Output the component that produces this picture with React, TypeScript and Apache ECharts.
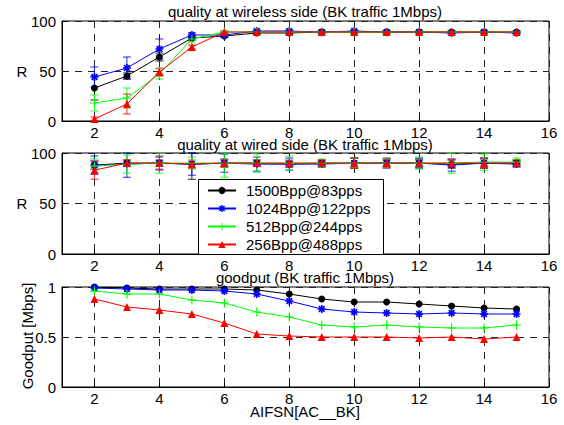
import React, { useEffect, useRef } from "react";
import * as echarts from "echarts";

const xs = [2, 3, 4, 5, 6, 7, 8, 9, 10, 11, 12, 13, 14, 15];
const xTickValues = [2, 4, 6, 8, 10, 12, 14, 16];
const seriesNames = ["1500Bpp@83pps", "1024Bpp@122pps", "512Bpp@244pps", "256Bpp@488pps"];
const colors = ["#000000", "#0000ff", "#00ff00", "#ff0000"];

// quality at wireless side
const wirelessBlack = [33, 45, 64, 83, 85, 88, 88, 89, 89, 89, 89, 89, 89, 89];
const wirelessBlue = [44, 53, 72, 86, 86, 90, 90, 89, 90, 89, 89, 88, 89, 88];
const wirelessGreen = [18, 23, 47, 82, 89, 89, 89, 89, 89, 89, 89, 89, 89, 89];
const wirelessRed = [2, 17, 49, 74, 89, 89, 89, 89, 89, 89, 89, 89, 89, 89];
const wirelessErrBlack = [12, 3, 4, 2, 1, 1, 1, 1, 1, 1, 1, 1, 1, 1];
const wirelessErrBlue = [10, 11, 10, 2, 2, 1, 1, 1, 1, 1, 1, 1, 1, 1];
const wirelessErrGreen = [8, 10, 5, 3, 1, 1, 1, 1, 1, 1, 1, 1, 1, 1];
const wirelessErrRed = [2, 10, 4, 2, 1, 1, 1, 1, 1, 1, 1, 1, 1, 1];

// quality at wired side
const wiredBlack = [88, 90, 90, 89, 90, 90, 89, 90, 90, 90, 90, 89, 90, 90];
const wiredBlue = [88, 89, 90, 89, 90, 89, 89, 89, 90, 90, 90, 88, 90, 89];
const wiredGreen = [87, 89, 90, 90, 90, 90, 90, 90, 90, 90, 90, 90, 91, 91];
const wiredRed = [83, 90, 90, 89, 90, 90, 90, 90, 90, 90, 90, 90, 90, 90];
const wiredErrBlack = [4, 3, 3, 15, 4, 3, 3, 3, 5, 3, 4, 4, 5, 3];
const wiredErrBlue = [9, 13, 6, 11, 9, 7, 6, 3, 5, 5, 5, 6, 4, 3];
const wiredErrGreen = [7, 9, 10, 6, 14, 9, 7, 4, 5, 4, 6, 10, 8, 4];
const wiredErrRed = [9, 3, 7, 4, 3, 3, 3, 3, 5, 4, 3, 4, 5, 3];

// goodput
const goodputBlack = [1.0, 0.99, 0.98, 0.98, 0.98, 0.97, 0.93, 0.88, 0.85, 0.85, 0.83, 0.81, 0.79, 0.78];
const goodputBlue = [0.99, 0.98, 0.97, 0.97, 0.96, 0.93, 0.86, 0.78, 0.75, 0.74, 0.73, 0.74, 0.73, 0.73];
const goodputGreen = [0.96, 0.93, 0.93, 0.87, 0.84, 0.75, 0.7, 0.62, 0.6, 0.62, 0.6, 0.59, 0.59, 0.62];
const goodputRed = [0.88, 0.8, 0.77, 0.73, 0.64, 0.53, 0.51, 0.5, 0.5, 0.5, 0.49, 0.5, 0.48, 0.5];

const titles = [
  "quality at wireless side (BK traffic 1Mbps)",
  "quality at wired side (BK traffic 1Mbps)",
  "goodput (BK traffic 1Mbps)",
];

const FONT = "'Liberation Sans', Arial, sans-serif";
const FS = 15;

const plusPath = "path://M7,0H9V7H16V9H9V16H7V9H0V7H7Z";
const asteriskPath =
  "path://M0,8H20V12H0Z M8,0H12V20H8Z M1.52,4.34L4.34,1.52L18.48,15.66L15.66,18.48Z M4.34,18.48L1.52,15.66L15.66,1.52L18.48,4.34Z";
const symbols = ["circle", asteriskPath, plusPath, "triangle"];
const symbolSizes = [7, 8, 9, 8];

export default function App() {
  const ref = useRef<HTMLDivElement>(null);
  useEffect(() => {
    if (!ref.current) return;
    const chart = echarts.init(ref.current, null, { renderer: "svg" });

    const gridTops = [21, 153, 287];
    const gridHeights = [100, 101, 100];
    const grids = gridTops.map((t, i) => ({
      left: 62,
      right: 15,
      top: t,
      height: gridHeights[i],
      show: true,
      borderColor: "#000",
      borderWidth: 1,
      backgroundColor: "#fff",
    }));

    const dash = { color: "#222", type: [7, 6] as any, width: 1 };

    const xAxes = [0, 1, 2].map((i) => ({
      type: "value",
      gridIndex: i,
      min: 1,
      max: 16,
      axisLine: { show: true, lineStyle: { color: "#000" } },
      axisTick: { show: true, inside: true, length: 4, customValues: xTickValues, lineStyle: { color: "#000" } },
      axisLabel: { customValues: xTickValues, color: "#000", fontSize: FS, fontFamily: FONT, margin: 4 },
      splitLine: { show: true, lineStyle: dash },
    }));

    const yAxes = [0, 1, 2].map((i) => ({
      type: "value",
      gridIndex: i,
      min: 0,
      max: i === 2 ? 1 : 100,
      interval: i === 2 ? 0.5 : 50,
      axisLine: { show: true, lineStyle: { color: "#000" } },
      axisTick: { show: true, inside: true, length: 4, lineStyle: { color: "#000" } },
      axisLabel: { color: "#000", fontSize: FS, fontFamily: FONT, margin: 6 },
      splitLine: { show: true, lineStyle: dash },
    }));

    const panelData = [
      [wirelessBlack, wirelessBlue, wirelessGreen, wirelessRed],
      [wiredBlack, wiredBlue, wiredGreen, wiredRed],
      [goodputBlack, goodputBlue, goodputGreen, goodputRed],
    ];
    const panelErr = [
      [wirelessErrBlack, wirelessErrBlue, wirelessErrGreen, wirelessErrRed],
      [wiredErrBlack, wiredErrBlue, wiredErrGreen, wiredErrRed],
    ];

    const series: any[] = [];
    panelErr.forEach((errs, p) => {
      errs.forEach((err, s) => {
        const color = colors[s];
        series.push({
          type: "custom",
          name: "err" + p + "_" + s,
          xAxisIndex: p,
          yAxisIndex: p,
          z: 2,
          silent: true,
          encode: { x: 0, y: [1, 2] },
          data: xs.map((x, k) => [x, panelData[p][s][k] - err[k], Math.min(100, panelData[p][s][k] + err[k])]),
          renderItem: (params: any, api: any) => {
            const x = api.value(0);
            const p1 = api.coord([x, api.value(1)]);
            const p2 = api.coord([x, api.value(2)]);
            const w = 4;
            const style = { stroke: color, lineWidth: 1, opacity: 0.85 };
            return {
              type: "group",
              children: [
                { type: "line", shape: { x1: p1[0], y1: p1[1], x2: p2[0], y2: p2[1] }, style },
                { type: "line", shape: { x1: p1[0] - w, y1: p1[1], x2: p1[0] + w, y2: p1[1] }, style },
                { type: "line", shape: { x1: p2[0] - w, y1: p2[1], x2: p2[0] + w, y2: p2[1] }, style },
              ],
            };
          },
        });
      });
    });

    panelData.forEach((arrs, p) => {
      arrs.forEach((vals, s) => {
        series.push({
          type: "line",
          name: seriesNames[s],
          xAxisIndex: p,
          yAxisIndex: p,
          z: 3,
          data: xs.map((x, k) => [x, vals[k]]),
          symbol: symbols[s],
          symbolSize: symbolSizes[s],
          showAllSymbol: true,
          itemStyle: { color: colors[s] },
          lineStyle: { color: colors[s], width: 1 },
          emphasis: { disabled: true },
        });
      });
    });

    const graphic: any[] = [
      {
        type: "rect",
        shape: { x: 198.5, y: 179.5, width: 185, height: 75 },
        style: { fill: "#fff", stroke: "#000", lineWidth: 1 },
        z: 8,
        silent: true,
      },
      ...titles.map((t, i) => ({
        type: "text",
        x: 305,
        y: [11, 144, 277][i],
        style: { text: t, fill: "#000", font: `${FS}px ${FONT}`, textAlign: "center", textVerticalAlign: "middle" },
      })),
      { type: "text", x: 22, y: 71, style: { text: "R", fill: "#000", font: `${FS}px ${FONT}`, textAlign: "center", textVerticalAlign: "middle" } },
      { type: "text", x: 22, y: 203, style: { text: "R", fill: "#000", font: `${FS}px ${FONT}`, textAlign: "center", textVerticalAlign: "middle" } },
      {
        type: "text",
        x: 27,
        y: 336,
        rotation: Math.PI / 2,
        style: { text: "Goodput [Mbps]", fill: "#000", font: `${FS}px ${FONT}`, textAlign: "center", textVerticalAlign: "middle" },
      },
      { type: "text", x: 305, y: 411, style: { text: "AIFSN[AC__BK]", fill: "#000", font: `${FS}px ${FONT}`, textAlign: "center", textVerticalAlign: "middle" } },
    ];

    chart.setOption({
      animation: false,
      backgroundColor: "#fff",
      grid: grids,
      xAxis: xAxes,
      yAxis: yAxes,
      series,
      graphic,
      legend: {
        data: seriesNames,
        orient: "vertical",
        left: 198,
        top: 179,
        itemWidth: 28,
        itemHeight: 9,
        itemGap: 3,
        padding: [4, 9, 3, 9],
        selectedMode: false,
        textStyle: { color: "#000", fontSize: FS, fontFamily: FONT, padding: [0, 0, 0, 5] },
        z: 10,
      },
    });

    return () => chart.dispose();
  }, []);

  return <div ref={ref} style={{ position: "fixed", left: 0, top: 0, width: 564, height: 425 }} />;
}
